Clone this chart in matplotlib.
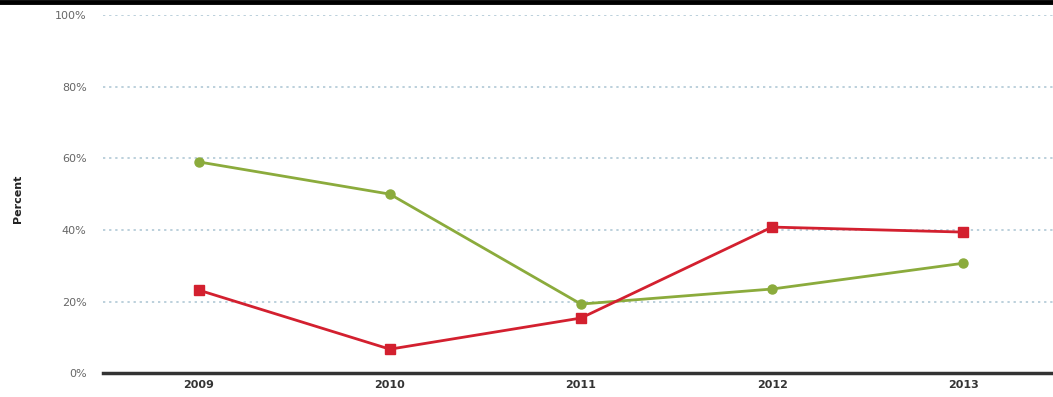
import numpy as np
import matplotlib.pyplot as plt
from matplotlib.ticker import FuncFormatter

# data
years = ['2009', '2010', '2011', '2012', '2013']
green_vals = [59, 50, 19.3, 23.5, 30.7]
red_vals = [23.2, 6.7, 15.4, 40.8, 39.4]
y_ticks = [0, 20, 40, 60, 80, 100]

fig = plt.figure(figsize=(10.53, 3.97), dpi=100)
ax = fig.add_axes([0.098, 0.06, 0.902, 0.902])

x = np.arange(len(years))

ax.plot(x, green_vals, '-', color='#8bab3c', linewidth=2,
        marker='o', markersize=6.5, zorder=3)
ax.plot(x, red_vals, '-', color='#d3202f', linewidth=2,
        marker='s', markersize=7.5, zorder=4)

ax.set_ylim(0, 100)
ax.set_xlim(-0.5, 4.47)
ax.set_yticks(y_ticks)
ax.yaxis.set_major_formatter(FuncFormatter(lambda v, p: '%d%%' % v))
ax.set_xticks(x)
ax.set_xticklabels(years, fontweight='bold', fontsize=8, color='#333333')
ax.tick_params(axis='y', labelsize=8, colors='#666666', length=0, pad=12)
ax.tick_params(axis='x', length=0, pad=5)

for t in y_ticks[1:]:
    ax.axhline(t, color='#a9c4d2', linestyle=(0, (1.5, 2.5)), linewidth=1.1, zorder=1)

for s in ['top', 'right', 'left']:
    ax.spines[s].set_visible(False)
ax.spines['bottom'].set_color('#333333')
ax.spines['bottom'].set_linewidth(2.5)

fig.text(0.017, 0.5, 'Percent', rotation=90, fontsize=8, fontweight='bold',
         va='center', ha='center', color='#222222')

# black band across the top edge
fig.add_artist(plt.Line2D([0, 1], [0.996, 0.996], color='black', linewidth=3.5,
                          transform=fig.transFigure))

fig.savefig('out.png', dpi=100)
